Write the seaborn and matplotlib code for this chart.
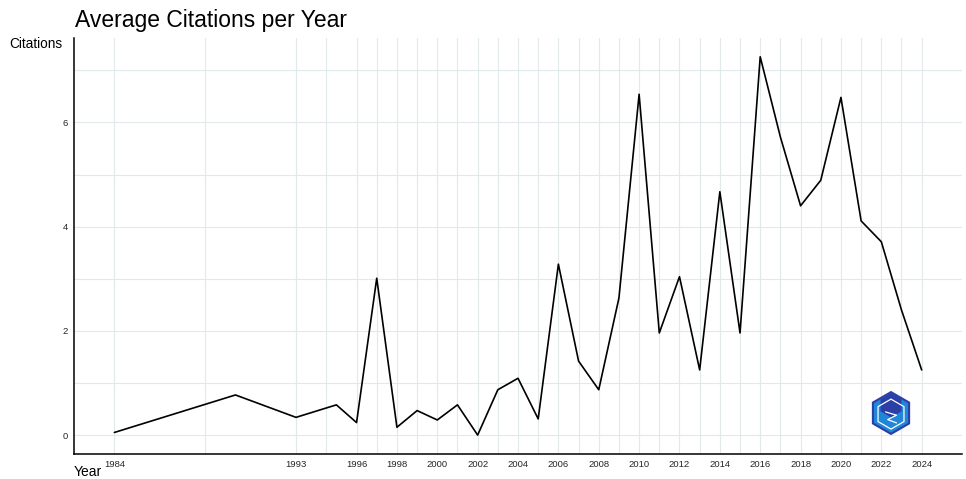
import numpy as np
import pandas as pd
import matplotlib
matplotlib.use("Agg")
import matplotlib.pyplot as plt
import seaborn as sns
from matplotlib.patches import RegularPolygon

# =========================
# Data
# =========================
years = [1984, 1990, 1993, 1995, 1996, 1997, 1998, 1999, 2000, 2001, 2002,
         2003, 2004, 2005, 2006, 2007, 2008, 2009, 2010, 2011, 2012, 2013,
         2014, 2015, 2016, 2017, 2018, 2019, 2020, 2021, 2022, 2023, 2024]
citations = [0.05, 0.77, 0.34, 0.58, 0.24, 3.01, 0.15, 0.47, 0.29, 0.58, 0.0,
             0.87, 1.09, 0.31, 3.28, 1.42, 0.87, 2.63, 6.54, 1.96, 3.04, 1.25,
             4.67, 1.96, 7.26, 5.72, 4.40, 4.89, 6.48, 4.11, 3.71, 2.40, 1.25]
x_breaks = [1984, 1993, 1996, 1998, 2000, 2002, 2004, 2006, 2008, 2010,
            2012, 2014, 2016, 2018, 2020, 2022, 2024]
y_breaks = [0, 2, 4, 6]

plotData = pd.DataFrame({"Year": years, "Citations": citations})

# =========================
# Theme
# =========================
sns.set_style("white")
plt.rcParams["font.family"] = ["Liberation Sans", "DejaVu Sans"]

fig = plt.figure(figsize=(9.66, 4.79), dpi=100)
ax = fig.add_axes([0.0766, 0.0522, 0.9193, 0.8688])

grid_col = "#e2e9ea"
# minor grid at midpoints between breaks (ggplot style)
x_minor = [(a + b) / 2 for a, b in zip(x_breaks[:-1], x_breaks[1:])]
y_minor = [1, 3, 5, 7]
for v in x_breaks + x_minor:
    ax.axvline(v, color=grid_col, lw=0.8, zorder=0)
for v in y_breaks + y_minor:
    ax.axhline(v, color=grid_col, lw=0.8, zorder=0)

sns.lineplot(data=plotData, x="Year", y="Citations", color="black",
             linewidth=1.2, ax=ax, zorder=3)

ax.set_xlim(1982, 2026)
ax.set_ylim(-0.363, 7.623)
ax.set_xticks(x_breaks)
ax.set_xticklabels([str(y) for y in x_breaks])
ax.set_yticks(y_breaks)
ax.tick_params(axis="both", labelsize=6.8, labelcolor="#262626",
               length=2.5, width=0.6, color="#333333", pad=2)

for side in ["top", "right"]:
    ax.spines[side].set_visible(False)
for side in ["left", "bottom"]:
    ax.spines[side].set_color("black")
    ax.spines[side].set_linewidth(1.1)

ax.set_xlabel("")
ax.set_ylabel("")
fig.text(0.0776, 0.943, "Average Citations per Year", fontsize=16.5,
         ha="left", va="baseline", color="black")
fig.text(0.010, 0.900, "Citations", fontsize=9.8, ha="left",
         va="baseline", color="black")
fig.text(0.0766, 0.006, "Year", fontsize=10, ha="left",
         va="baseline", color="black")

# small logo watermark (bottom right), in its own square axes
logo = fig.add_axes([(891 - 22) / 966, (479 - 413 - 22) / 479, 44 / 966, 44 / 479])
logo.set_xlim(-1, 1)
logo.set_ylim(-1, 1)
logo.set_aspect("equal")
logo.axis("off")
logo.add_patch(RegularPolygon((0, 0), numVertices=6, radius=0.95,
                              facecolor="#1f86d8", edgecolor="#2b3fa6", lw=1.5))
logo.add_patch(RegularPolygon((0, 0.35), numVertices=6, radius=0.55,
                              facecolor="#2b3fa6", edgecolor="none"))
logo.add_patch(RegularPolygon((0, -0.05), numVertices=6, radius=0.68,
                              facecolor="none", edgecolor="white", lw=0.9))
logo.plot([-0.25, 0.25, -0.15, 0.25], [0.05, -0.1, -0.3, -0.45],
          color="white", lw=0.9)

plt.savefig("out.png", dpi=100)
plt.close()
